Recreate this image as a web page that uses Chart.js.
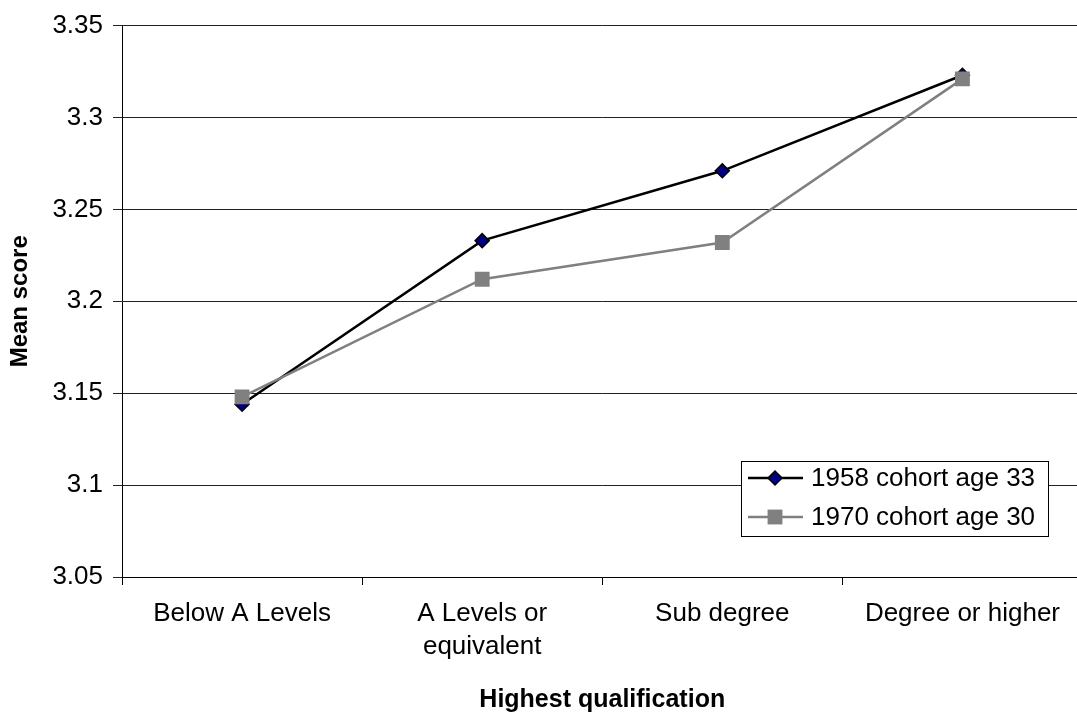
<!DOCTYPE html>
<html>

<head>
  <title>Mean score by highest qualification</title>
  <script src="https://cdn.jsdelivr.net/npm/chart.js"></script>
  <style>
    body { margin: 0; overflow: hidden; background: #fff; }
  </style>
</head>

<body>
  <canvas id="myChart" width="1093" height="713"></canvas>
  <script>
    // Data
    var categories = ['Below A Levels', ['A Levels or', 'equivalent'], 'Sub degree', 'Degree or higher'];
    var cohort1958 = [3.144, 3.233, 3.271, 3.323];
    var cohort1970 = [3.148, 3.212, 3.232, 3.321];
    var seriesNames = ['1958 cohort age 33', '1970 cohort age 30'];

    const FONT = "'Liberation Sans', Arial, sans-serif";

    // legend box drawn inside the plot, Excel style
    const insideLegend = {
      id: 'insideLegend',
      afterDraw(chart) {
        const ctx = chart.ctx;
        const x0 = 741, y0 = 461, w = 307, h = 75;
        ctx.save();
        ctx.fillStyle = '#fff';
        ctx.fillRect(x0, y0, w, h);
        ctx.strokeStyle = '#000';
        ctx.lineWidth = 1;
        ctx.strokeRect(x0 + 0.5, y0 + 0.5, w, h);
        chart.data.datasets.forEach(function (ds, i) {
          const y = y0 + 17 + i * 39;
          ctx.strokeStyle = ds.borderColor;
          ctx.lineWidth = ds.borderWidth;
          ctx.beginPath();
          ctx.moveTo(748, y);
          ctx.lineTo(803, y);
          ctx.stroke();
          ctx.fillStyle = ds.pointBackgroundColor;
          ctx.strokeStyle = ds.pointBorderColor;
          ctx.lineWidth = ds.pointBorderWidth;
          ctx.beginPath();
          if (ds.pointStyle === 'rectRot') {
            const r = ds.pointRadius;
            ctx.moveTo(775, y - r);
            ctx.lineTo(775 + r, y);
            ctx.lineTo(775, y + r);
            ctx.lineTo(775 - r, y);
            ctx.closePath();
            ctx.fill();
            ctx.stroke();
          } else {
            const s = ds.pointRadius * Math.SQRT1_2;
            ctx.rect(775 - s, y - s, 2 * s, 2 * s);
            ctx.fill();
          }
          ctx.fillStyle = '#000';
          ctx.font = '26px ' + FONT;
          ctx.textBaseline = 'middle';
          ctx.textAlign = 'left';
          ctx.fillText(ds.label, 811, y + 1);
        });
        ctx.restore();
      }
    };

    var ctx = document.getElementById('myChart').getContext('2d');
    var chart = new Chart(ctx, {
      type: 'line',
      data: {
        labels: categories,
        datasets: [
          {
            label: seriesNames[0],
            data: cohort1958,
            borderColor: '#000',
            borderWidth: 2.5,
            pointStyle: 'rectRot',
            pointRadius: 7,
            pointBackgroundColor: '#000080',
            pointBorderColor: '#000',
            pointBorderWidth: 1.5,
            order: 2
          },
          {
            label: seriesNames[1],
            data: cohort1970,
            borderColor: '#808080',
            borderWidth: 2.5,
            pointStyle: 'rect',
            pointRadius: 10.5,
            pointBackgroundColor: '#808080',
            pointBorderColor: '#808080',
            pointBorderWidth: 0,
            order: 1
          }
        ]
      },
      options: {
        responsive: false,
        animation: false,
        layout: { padding: { top: 18, right: 3, left: 0, bottom: 0 } },
        plugins: {
          legend: { display: false },
          tooltip: { enabled: false }
        },
        scales: {
          x: {
            offset: true,
            afterFit(scale) { scale.height = 136; },
            grid: {
              offset: true,
              drawOnChartArea: false,
              color: '#000',
              tickLength: 8
            },
            border: { color: '#000', width: 1 },
            ticks: {
              color: '#000',
              font: { family: FONT, size: 26, lineHeight: 1.27 },
              padding: 12,
              maxRotation: 0,
              autoSkip: false
            },
            title: {
              display: true,
              text: 'Highest qualification',
              color: '#000',
              font: { family: FONT, size: 25, weight: 'bold', lineHeight: 1 },
              padding: { top: 4, bottom: 0 }
            }
          },
          y: {
            min: 3.05,
            max: 3.35,
            afterFit(scale) { scale.width = 122; },
            grid: {
              color: '#222',
              lineWidth: 1,
              tickLength: 9
            },
            border: { color: '#000', width: 1 },
            ticks: {
              stepSize: 0.05,
              color: '#000',
              padding: 10,
              font: { family: FONT, size: 26 },
              callback: function (v) { return String(+v.toFixed(2)); }
            },
            title: {
              display: true,
              text: 'Mean score',
              color: '#000',
              font: { family: FONT, size: 24, weight: 'bold', lineHeight: 1 },
              padding: { top: 8, bottom: 0 }
            }
          }
        }
      },
      plugins: [insideLegend]
    });
  </script>
</body>

</html>
